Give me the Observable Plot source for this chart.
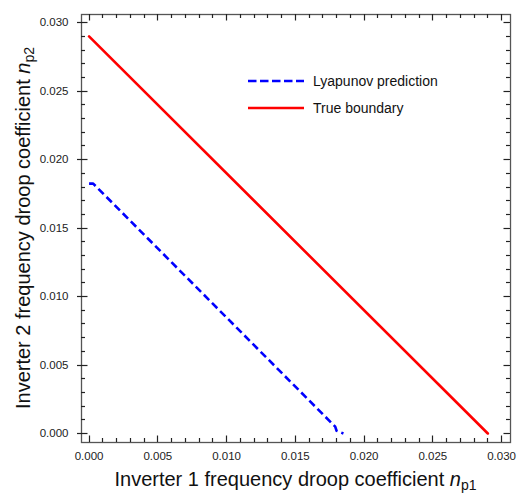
<!DOCTYPE html>
<html>
<head>
<meta charset="utf-8">
<script src="https://cdn.jsdelivr.net/npm/d3@7"></script>
<script src="https://cdn.jsdelivr.net/npm/@observablehq/plot@0.6"></script>
<style>
  html, body { margin: 0; padding: 0; background: #fff; }
  #chart { width: 517px; height: 494px; }
  svg { font-family: "Liberation Sans", Arial, sans-serif; }
</style>
</head>
<body>
<div id="chart"></div>
<script>
// ---- data ----
const trueX = [0, 0.029];
const trueY = [0.029, 0];
const lyapX = [0, 0.0003, 0.0179, 0.0180, 0.0185];
const lyapY = [0.01825, 0.01825, 0.0005, 0.0002, 0];
const majorTicks = [0, 0.005, 0.010, 0.015, 0.020, 0.025, 0.030];
const minorTicks = [0.001, 0.002, 0.003, 0.004, 0.006, 0.007, 0.008, 0.009,
  0.011, 0.012, 0.013, 0.014, 0.016, 0.017, 0.018, 0.019,
  0.021, 0.022, 0.023, 0.024, 0.026, 0.027, 0.028, 0.029];
const xDomain = [-0.00055, 0.03065];
const yDomain = [-0.00066, 0.0306];
const seriesNames = ["Lyapunov prediction", "True boundary"];

const trueData = trueX.map((x, i) => ({x, y: trueY[i]}));
const lyapData = lyapX.map((x, i) => ({x, y: lyapY[i]}));

const W = 517, H = 494;
const mL = 81, mR = 7, mT = 14, mB = 52;
const iw = W - mL - mR, ih = H - mT - mB;
const tickColor = "#222";
const fmt = d3.format(".3f");

const chart = Plot.plot({
  width: W, height: H,
  marginLeft: mL, marginRight: mR, marginTop: mT, marginBottom: mB,
  style: {fontFamily: "Liberation Sans, Arial, sans-serif", background: "#fff", overflow: "visible"},
  x: {domain: xDomain},
  y: {domain: yDomain},
  marks: [
    Plot.axisX({ticks: majorTicks, tickFormat: fmt, tickSize: 0, tickPadding: 9, label: null, fontSize: 11.5, fill: "#222"}),
    Plot.axisY({ticks: majorTicks, tickFormat: fmt, tickSize: 0, tickPadding: 13, label: null, fontSize: 11.5, fill: "#222"}),
    Plot.frame({stroke: "#555", strokeWidth: 1.3}),
    Plot.line(trueData, {x: "x", y: "y", stroke: "#ff0000", strokeWidth: 2.6}),
    Plot.line(lyapData, {x: "x", y: "y", stroke: "#0000ff", strokeWidth: 2.6, strokeDasharray: "7.5,4", strokeLinecap: "butt"})
  ]
});
document.getElementById("chart").appendChild(chart);

const svg = d3.select(chart);
const sx = chart.scale("x"), sy = chart.scale("y");
const x0 = mL, x1 = W - mR, y0 = H - mB, y1 = mT;

// ---- inward frame ticks, positioned through Plot's scales ----
const tg = svg.append("g");
function addTicks(vals, len, outLeft) {
  vals.forEach(v => {
    const px = Math.round(sx.apply(v)) + 0.5, py = Math.round(sy.apply(v)) + 0.5;
    const segs = [
      [px, y0, px, y0 - len],
      [px, y1, px, y1 + len],
      [x0 - outLeft, py, x0 + len, py],
      [x1, py, x1 - len, py]
    ];
    segs.forEach(([a, b, c, d]) => {
      tg.append("path")
        .attr("d", `M${a},${b}L${c},${d}`)
        .attr("fill", "none")
        .attr("stroke", tickColor)
        .attr("stroke-width", 1.2);
    });
  });
}
addTicks(minorTicks, 4, 0);
addTicks(majorTicks, 6.5, 4);

// ---- axis titles with subscripts ----
const xt = svg.append("text")
  .attr("x", mL + iw / 2).attr("y", 486)
  .attr("text-anchor", "middle")
  .attr("font-size", 20).attr("fill", "#111");
xt.append("tspan").text("Inverter 1 frequency droop coefficient ");
xt.append("tspan").attr("font-style", "italic").text("n");
xt.append("tspan").attr("font-size", 14).attr("dy", 4).text("p1");

const yt = svg.append("text")
  .attr("transform", `translate(30,${mT + ih / 2}) rotate(-90)`)
  .attr("text-anchor", "middle")
  .attr("font-size", 20).attr("fill", "#111");
yt.append("tspan").text("Inverter 2 frequency droop coefficient ");
yt.append("tspan").attr("font-style", "italic").text("n");
yt.append("tspan").attr("font-size", 14).attr("dy", 4).text("p2");

// ---- legend ----
const leg = svg.append("g");
const legStyles = [
  {stroke: "#0000ff", dash: "8.5,3.5"},
  {stroke: "#ff0000", dash: null}
];
seriesNames.forEach((name, i) => {
  const yy = 81 + i * 27;
  leg.append("path")
    .attr("d", `M248,${yy}L304,${yy}`)
    .attr("fill", "none")
    .attr("stroke", legStyles[i].stroke).attr("stroke-width", 2.6)
    .attr("stroke-dasharray", legStyles[i].dash);
  leg.append("text")
    .attr("x", 313).attr("y", yy + 5)
    .attr("text-anchor", "start")
    .attr("font-size", 14).attr("fill", "#111")
    .text(name);
});
</script>
</body>
</html>
